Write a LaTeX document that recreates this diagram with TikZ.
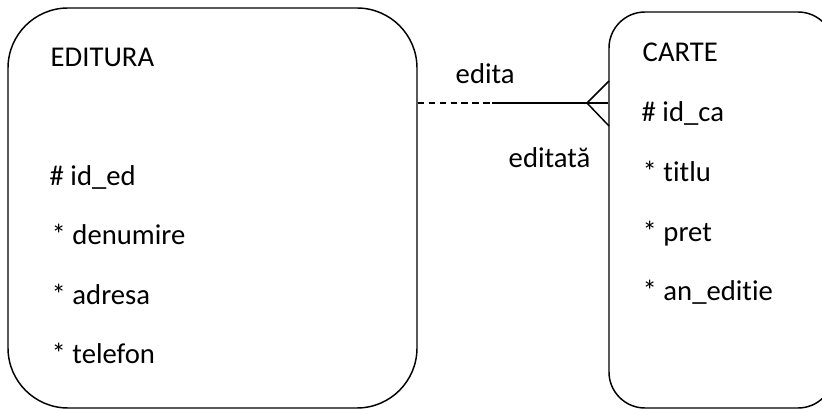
\documentclass[tikz,border=0pt]{standalone}
\usepackage{fontspec}
\setmainfont{Carlito}[Ligatures={NoCommon}]

\begin{document}
\begin{tikzpicture}[x=.75pt, y=-.75pt, line width=1.1pt,
        entity/.style={draw, rounded corners=#1, inner sep=0pt},
        txt/.style={anchor=base west, inner sep=0pt, font=\fontsize{21.5}{26}\selectfont}]
        \useasboundingbox (0,0) rectangle (822,409);
        \clip (0,0) rectangle (822,409);
        % entitati
        \node[entity=45pt, minimum width=306.75pt, minimum height=300pt] (editura) at (212.5,208){};
        \node[entity=27pt, minimum width=168.75pt, minimum height=297pt] (carte) at (721.5,210){};
        \node[txt] (edName) at (50,67){EDITURA};
        \node[txt] (edId) at (49,186){\# id\_ed};
        \node[txt] (edDen) at (51,245){* denumire};
        \node[txt] (edAdr) at (51,305){* adresa};
        \node[txt] (edTel) at (51,364){* telefon};
        \node[txt] (caName) at (642,62){CARTE};
        \node[txt] (caId) at (641,122){\# id\_ca};
        \node[txt] (caTit) at (642,182){* titlu};
        \node[txt] (caPret) at (642,242){* pret};
        \node[txt] (caAn) at (642,301){* an\_editie};
        % relatia
        \coordinate (split) at (492,103);
        \coordinate (foot) at (587,103);
        \coordinate (footUp) at (609,81);
        \coordinate (footDown) at (609,126);
        \draw[dash pattern=on 5pt off 3.2pt] (editura.east |- split) -- (split);
        \draw (split) -- (carte.west |- split);
        \draw (footUp) -- (foot) -- (footDown);
        \node[txt] (edita) at (455,84){edita};
        \node[txt] (editata) at (508,168){editată};
    \end{tikzpicture}
\end{document}
